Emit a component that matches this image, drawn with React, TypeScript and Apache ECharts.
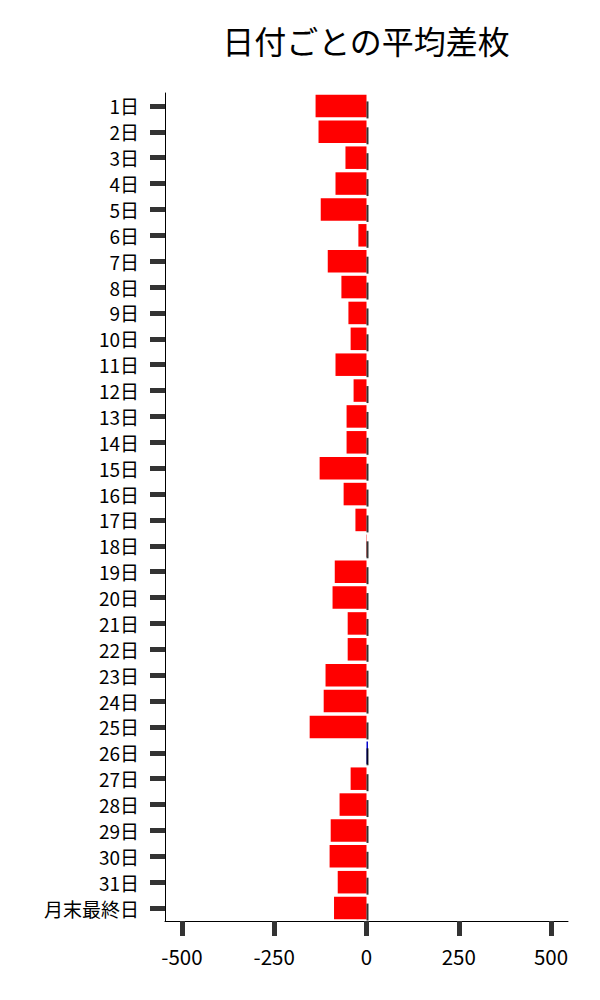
import React, { useEffect, useRef } from "react";
import * as echarts from "echarts";

const TITLE = "日付ごとの平均差枚";
const days = [
  "1日", "2日", "3日", "4日", "5日", "6日", "7日", "8日", "9日", "10日",
  "11日", "12日", "13日", "14日", "15日", "16日", "17日", "18日", "19日", "20日",
  "21日", "22日", "23日", "24日", "25日", "26日", "27日", "28日", "29日", "30日",
  "31日", "月末最終日",
];
const values = [
  -138, -130, -57, -84, -124, -22, -105, -68, -49, -43,
  -84, -35, -54, -54, -127, -62, -30, -1, -86, -92,
  -51, -51, -111, -116, -154, 4, -43, -73, -97, -100,
  -78, -88,
];
const xTicks = [-500, -250, 0, 250, 500];

const FONT = "'Noto Sans CJK JP', 'Noto Sans', sans-serif";

export default function App() {
  const ref = useRef<HTMLDivElement>(null);
  useEffect(() => {
    document.body.style.margin = "0";
    const chart = echarts.init(ref.current!, null, { renderer: "svg" });
    chart.setOption({
      animation: false,
      backgroundColor: "#fff",
      textStyle: { fontFamily: FONT },
      title: {
        text: TITLE,
        left: 361,
        top: 19,
        textAlign: "center",
        textStyle: { fontSize: 32, fontWeight: "normal", color: "#000", fontFamily: FONT },
      },
      grid: { left: 165, right: 32, top: 93, bottom: 79, containLabel: false },
      xAxis: {
        type: "value",
        min: -546,
        max: 546,
        splitLine: { show: false },
        axisLine: { show: true, onZero: false, lineStyle: { color: "#000", width: 1 } },
        axisTick: {
          show: true,
          customValues: xTicks,
          length: 15,
          lineStyle: { color: "#333", width: 5 },
        },
        axisLabel: {
          customValues: xTicks,
          margin: 25,
          fontSize: 20.5,
          color: "#000",
          fontFamily: FONT,
        },
      },
      yAxis: {
        type: "category",
        data: days,
        inverse: true,
        axisLine: { show: true, onZero: false, lineStyle: { color: "#000", width: 1 } },
        axisTick: {
          show: true,
          interval: 0,
          alignWithLabel: true,
          length: 15,
          lineStyle: { color: "#333", width: 5 },
        },
        axisLabel: {
          interval: 0,
          margin: 26,
          fontSize: 19,
          color: "#000",
          fontFamily: FONT,
        },
        splitLine: { show: false },
      },
      series: [
        {
          type: "bar",
          barCategoryGap: "13%",
          data: values.map((v) => ({
            value: v,
            itemStyle: { color: v < 0 ? "#ff0000" : "#0000cd" },
          })),
          z: 2,
        },
        {
          type: "scatter",
          symbol: "rect",
          symbolSize: [2, 17],
          symbolOffset: [1, 4],
          itemStyle: { color: "#000" },
          data: days.map((d) => [0, d]),
          z: 3,
          silent: true,
        },
      ],
    });
    return () => chart.dispose();
  }, []);
  return <div ref={ref} style={{ width: 600, height: 1000 }} />;
}
